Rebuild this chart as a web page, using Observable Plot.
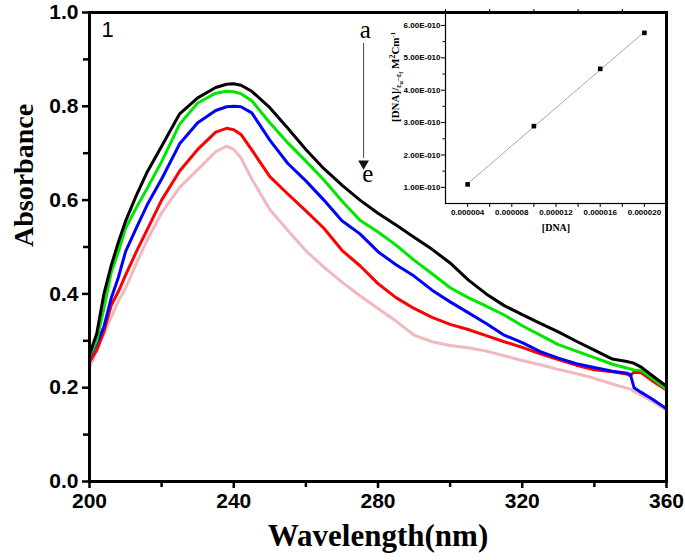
<!DOCTYPE html>
<html><head><meta charset="utf-8">
<script src="https://cdn.jsdelivr.net/npm/d3@7"></script>
<script src="https://cdn.jsdelivr.net/npm/@observablehq/plot@0.6"></script>
<style>
body{margin:0;background:#fff;}
#wrap{position:relative;width:685px;height:560px;overflow:hidden;}
#wrap svg{position:absolute;top:0;left:0;}
</style></head><body><div id="wrap"></div>
<script>
// ---------- main spectrum data ----------
const wavelengths = [200,202,204,206,208,210,213,216,220,225,230,235,238,240,242,245,250,255,260,265,270,275,280,285,290,295,300,305,310,315,320,325,330,335,340,345,349,350,351,353,356,360];
const absA = [.271,.315,.400,.460,.510,.555,.610,.660,.715,.784,.818,.840,.847,.848,.845,.832,.797,.753,.708,.667,.632,.600,.572,.547,.521,.495,.466,.430,.400,.375,.356,.337,.319,.299,.280,.261,.256,.254,.252,.244,.226,.203];
const absB = [.268,.300,.370,.445,.490,.540,.584,.625,.682,.762,.807,.828,.832,.831,.827,.812,.765,.722,.683,.643,.598,.557,.532,.504,.472,.443,.413,.392,.374,.355,.332,.312,.292,.278,.264,.250,.242,.240,.238,.237,.220,.197];
const absC = [.265,.295,.330,.390,.435,.490,.541,.590,.645,.720,.765,.791,.799,.800,.799,.786,.728,.678,.641,.600,.556,.528,.490,.462,.438,.408,.383,.360,.337,.312,.296,.277,.263,.251,.243,.235,.231,.228,.200,.190,.176,.155];
const absD = [.255,.280,.320,.375,.405,.440,.490,.537,.600,.662,.708,.745,.753,.750,.740,.707,.650,.613,.577,.540,.493,.460,.422,.392,.369,.350,.335,.324,.311,.298,.286,.272,.260,.248,.238,.234,.229,.226,.233,.232,.215,.195];
const absE = [.242,.280,.315,.350,.385,.412,.465,.515,.573,.627,.665,.703,.715,.708,.690,.645,.580,.535,.492,.457,.425,.396,.369,.342,.312,.298,.290,.285,.278,.268,.258,.249,.239,.230,.220,.208,.199,.197,.192,.184,.171,.152];
const seriesNames = ["a","b","c","d","e"];
const seriesColors = ["#000000","#00e600","#0000ff","#ff0000","#f2b8bd"];
const yTicks = [0,0.2,0.4,0.6,0.8,1.0];
const yMinorTicks = [0.1,0.3,0.5,0.7,0.9];
const xTicks = [200,240,280,320,360];
const xMinorTicks = [220,260,300,340];

// ---------- inset data ----------
const dnaConc = [0.000004,0.00001,0.000016,0.00002];
const dnaRatio = [1.09e-10,2.89e-10,4.66e-10,5.77e-10];
const insetXTicks = [0.000004,0.000008,0.000012,0.000016,0.00002];
const insetXMinor = [0.000006,0.00001,0.000014,0.000018];
const insetYTicks = [1e-10,2e-10,3e-10,4e-10,5e-10,6e-10];
const insetYMinor = [1.5e-10,2.5e-10,3.5e-10,4.5e-10,5.5e-10];

// ---------- annotations ----------
const panelLabel = [{x:205, y:0.962, t:"1"}];
const arrowLabels = [{x:276.5, y:0.962, t:"a"}, {x:277.2, y:0.655, t:"e"}];
const arrowLine = [{x1:276, y1:0.935, x2:276, y2:0.69}];
const arrowHead = [{x:276, y:0.678}];

const seriesValues = [absA, absB, absC, absD, absE];
const rows = seriesNames.flatMap((s,i) => wavelengths.map((w,j) => ({series:s, wl:w, A:seriesValues[i][j]})));

const sans = "'Liberation Sans', Arial, sans-serif";
const serif = "'Liberation Serif', 'Times New Roman', serif";

const lineMarks = seriesNames.map(s => Plot.line(rows.filter(r => r.series === s), {x:"wl", y:"A", stroke:"series", strokeWidth:3, strokeLinejoin:"round"})).reverse();

const main = Plot.plot({
  width:685, height:560,
  marginLeft:89, marginRight:19, marginTop:12, marginBottom:79,
  style:{fontFamily:sans, fontWeight:"bold", fontSize:"21px", background:"#fff", overflow:"visible"},
  x:{domain:[200,360]},
  y:{domain:[0,1]},
  color:{domain:seriesNames, range:seriesColors},
  marks:[
    Plot.axisY(yTicks, {tickSize:7, tickPadding:4, strokeWidth:2.5, tickFormat:d => d.toFixed(1), label:null, fontSize:21}),
    Plot.axisY(yMinorTicks, {tickSize:6, strokeWidth:2.5, tickFormat:() => "", label:null}),
    Plot.axisX(xTicks, {tickSize:7, tickPadding:5, strokeWidth:2.5, tickFormat:d => String(d), label:null, fontSize:21}),
    Plot.axisX(xMinorTicks, {tickSize:6, strokeWidth:2.5, tickFormat:() => "", label:null}),
    ...lineMarks,
    Plot.frame({stroke:"#000", strokeWidth:3}),
    Plot.text(["Absorbance"], {frameAnchor:"left", text:d => d, rotate:-90, dx:-65, fontFamily:serif, fontSize:28, fontWeight:"bold"}),
    Plot.text(["Wavelength(nm)"], {frameAnchor:"bottom", text:d => d, dy:64, fontFamily:serif, fontSize:31, fontWeight:"bold"}),
    Plot.text(panelLabel, {x:"x", y:"y", text:"t", fontFamily:sans, fontWeight:"normal", fontSize:22}),
    Plot.text(arrowLabels, {x:"x", y:"y", text:"t", fontFamily:serif, fontWeight:"normal", fontSize:25}),
    Plot.link(arrowLine, {x1:"x1", y1:"y1", x2:"x2", y2:"y2", stroke:"#444", strokeWidth:1}),
    Plot.dot(arrowHead, {x:"x", y:"y", symbol:"triangle", rotate:180, r:4, fill:"#111", stroke:"none"})
  ]
});

const inset = Plot.plot({
  width:305, height:240,
  marginLeft:65, marginRight:19, marginTop:12, marginBottom:37,
  style:{fontFamily:sans, fontWeight:"bold", fontSize:"8px", background:"none", overflow:"visible"},
  x:{domain:[0.000002, 0.000022]},
  y:{domain:[0.5e-10, 6.4e-10]},
  marks:[
    Plot.axisY(insetYTicks, {tickSize:4, tickPadding:1, tickFormat:d => (d/1e-10).toFixed(2) + "E-010", label:null, fontSize:8}),
    Plot.axisY(insetYMinor, {tickSize:2.5, tickFormat:() => "", label:null}),
    Plot.axisX(insetXTicks, {tickSize:4, tickPadding:2, tickFormat:d => d.toFixed(6), label:null, fontSize:8}),
    Plot.axisX(insetXMinor, {tickSize:4, tickFormat:() => "", label:null}),
    Plot.axisX(insetXMinor.concat([0.000002]), {anchor:"top", tickSize:4, tickFormat:() => "", label:null}),
    Plot.frame({stroke:"#000", strokeWidth:1.2}),
    Plot.linearRegressionY(dnaConc.map((c,i) => ({c, r:dnaRatio[i]})), {x:"c", y:"r", ci:0, stroke:"#a8a8a8", strokeWidth:1}),
    Plot.dot(dnaConc.map((c,i) => ({c, r:dnaRatio[i]})), {x:"c", y:"r", symbol:"square", r:2.6, fill:"#000", stroke:"none"}),
    Plot.text(["[DNA]"], {frameAnchor:"bottom", text:d => d, dy:27, fontFamily:serif, fontSize:10, fontWeight:"bold"}),
    Plot.text(["YLABEL"], {frameAnchor:"left", text:d => d, rotate:-90, dx:-50, dy:14, fontFamily:serif, fontSize:11, fontWeight:"bold"})
  ]
});

// rich text for the inset y label (sub/superscripts)
d3.select(inset).selectAll("text").filter(function(){ return this.textContent === "YLABEL"; }).each(function(){
  const t = d3.select(this);
  t.text(null);
  const parts = [
    {s:"[DNA]/", size:11, shift:0},
    {s:"ε", size:7.5, shift:-2},
    {s:"α", size:6, shift:-3.5},
    {s:"−ε", size:7.5, shift:-2},
    {s:"f", size:6, shift:-3.5},
    {s:" M", size:11, shift:0},
    {s:"2", size:8, shift:4},
    {s:"Cm", size:11, shift:0},
    {s:"-1", size:6.5, shift:4}
  ];
  let prev = 0;
  parts.forEach(p => {
    t.append("tspan").attr("font-size", p.size).attr("dy", (-(p.shift - prev))).text(p.s);
    prev = p.shift;
  });
});

const wrap = document.getElementById("wrap");
wrap.append(main);
inset.style.left = "380px";
inset.style.top = "0px";
wrap.append(inset);
</script></body></html>
